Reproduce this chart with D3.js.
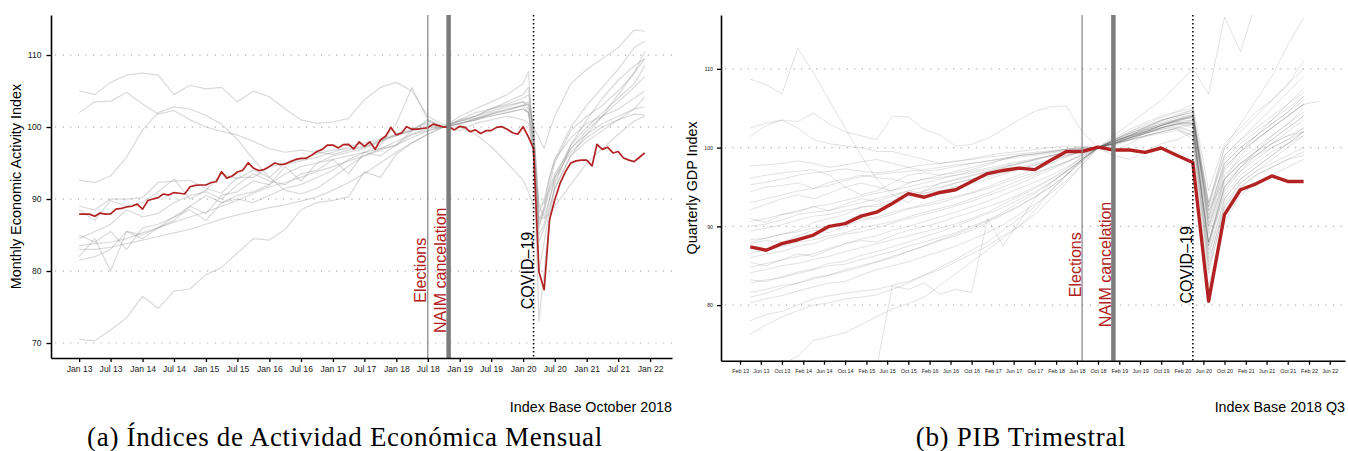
<!DOCTYPE html>
<html lang="es">
<head>
<meta charset="UTF-8">
<title>IGAE mensual y PIB trimestral</title>
<style>
  body { margin: 0; background: #fff; }
  svg text { font-family: "Liberation Sans", Arial, sans-serif; }
  svg text.caption { font-family: "Liberation Serif", "Times New Roman", serif; }
</style>
<script src="https://d3js.org/d3.v7.min.js"></script>
</head>
<body>
<svg id="chart" width="1348" height="451"></svg>
<script>
// ---------- panel (a): monthly index, base Oct 2018 ----------
const igaeStart = "2013-01";
const igaeRed = [
  87.9, 87.9, 87.9, 87.6, 88.05, 87.9, 87.95, 88.6, 88.7, 88.9, 89.0, 89.3,
  88.6, 89.8, 90.0, 90.2, 90.7, 90.55, 90.9, 90.8, 90.7, 91.7, 91.9, 91.95,
  91.95, 92.3, 92.4, 93.8, 92.9, 93.2, 93.75, 94.0, 95.05, 94.3, 93.95, 94.1,
  94.5, 95.0, 94.8, 94.85, 95.2, 95.5, 95.65, 95.65, 96.1, 96.6, 96.9, 97.5,
  97.5, 97.1, 97.55, 97.6, 96.95, 97.95, 97.3, 97.95, 96.9, 98.2, 98.75, 99.95,
  98.9, 99.2, 100.05, 99.7, 99.7, 99.8, 99.9, 100.4, 100.2, 100.0, 100.0, 99.6,
  100.1, 99.95, 99.35, 99.6, 99.1, 99.5, 99.5, 99.95, 100.05, 99.7, 99.2, 99.0,
  100.05, 98.6, 97.0, 79.9, 77.4, 87.1, 89.9, 92.2, 93.8, 95.0, 95.3, 95.4,
  95.4, 94.6, 97.6, 96.9, 97.2, 96.4, 96.6, 95.7, 95.4, 95.2, 95.8, 96.4
];
const igaeGrayDates = [
  "2013-01", "2013-04", "2013-07", "2013-10", "2014-01", "2014-04", "2014-07", "2014-10",
  "2015-01", "2015-04", "2015-07", "2015-10", "2016-01", "2016-04", "2016-07", "2016-10",
  "2017-01", "2017-04", "2017-07", "2017-10", "2018-01", "2018-04", "2018-07", "2018-10",
  "2019-01", "2019-04", "2019-07", "2019-10",
  "2020-01", "2020-02", "2020-03", "2020-04", "2020-05", "2020-06", "2020-07",
  "2020-10", "2021-01", "2021-04", "2021-07", "2021-10", "2021-12"
];
const igaeGray = [
  [105.0, 104.5, 106.2, 107.2, 107.5, 107.2, 104.5, 105.8, 105.3, 105.5, 103.5, 105.0, 104.2, 102.5, 101.0, 100.5, 100.7, 101.2, 103.8, 105.5, 106.2, 105.0, 101.5, 100.3, 100.8, 101.5, 102.2, 102.8, 103.5, 102.5, 97.0, 87.0, 89.0, 93.0, 95.5, 100.0, 103.0, 105.5, 108.0, 111.0, 111.9],
  [102.0, 103.5, 103.6, 104.8, 103.2, 101.8, 102.3, 101.0, 100.0, 99.4, 98.9, 98.0, 97.0, 96.5, 96.8, 96.5, 96.2, 96.8, 97.2, 98.0, 98.8, 99.5, 100.2, 100.0, 100.4, 101.2, 102.0, 102.4, 103.0, 103.5, 100.0, 89.0, 87.5, 90.0, 92.5, 97.0, 99.5, 101.5, 103.5, 105.5, 107.0],
  [92.6, 92.3, 93.2, 95.8, 99.6, 102.0, 102.8, 102.5, 101.6, 100.4, 98.3, 95.5, 93.0, 91.2, 90.7, 91.5, 93.0, 94.6, 96.0, 97.0, 98.0, 99.0, 99.8, 100.0, 100.0, 99.0, 97.3, 95.0, 92.6, 91.0, 89.0, 87.5, 87.3, 88.0, 89.0, 92.0, 95.0, 97.0, 99.0, 100.8, 101.5],
  [70.5, 70.3, 71.8, 73.5, 76.5, 74.8, 77.2, 77.5, 79.5, 80.5, 82.5, 84.5, 84.3, 85.8, 88.5, 89.5, 89.8, 90.3, 93.8, 93.0, 96.2, 97.8, 99.0, 100.0, 100.5, 101.0, 101.8, 102.5, 103.0, 102.0, 96.0, 80.0, 84.0, 88.5, 91.5, 96.0, 99.0, 101.5, 104.5, 107.5, 109.5],
  [89.0, 88.5, 90.0, 90.0, 90.2, 92.3, 92.5, 92.6, 91.5, 90.8, 93.0, 93.0, 94.5, 94.8, 95.3, 95.8, 96.5, 97.3, 97.8, 98.3, 99.0, 99.8, 100.5, 100.0, 100.8, 101.5, 102.6, 103.2, 104.0, 104.5, 100.0, 85.0, 86.5, 90.0, 93.0, 97.5, 100.0, 102.0, 104.0, 106.0, 108.5],
  [88.5, 87.0, 89.8, 89.0, 89.5, 91.0, 92.8, 90.0, 91.2, 93.5, 92.8, 94.0, 93.0, 95.0, 95.5, 96.3, 96.8, 97.0, 97.3, 98.2, 98.8, 99.5, 101.0, 100.0, 101.0, 102.0, 102.5, 103.5, 104.5, 105.5, 99.0, 86.0, 88.5, 92.0, 95.0, 99.5, 101.5, 103.0, 105.0, 107.5, 110.5],
  [85.0, 84.0, 85.5, 83.0, 86.0, 86.5, 87.5, 89.0, 88.0, 90.5, 91.0, 92.5, 92.0, 93.5, 94.5, 95.0, 96.0, 96.5, 97.0, 98.0, 99.0, 99.5, 100.8, 100.0, 100.5, 101.0, 101.5, 102.0, 102.5, 102.0, 98.5, 88.0, 90.0, 93.0, 95.5, 98.5, 100.5, 101.5, 102.5, 104.0, 105.0],
  [83.5, 83.8, 84.0, 84.5, 85.3, 86.0, 86.8, 87.5, 88.2, 89.0, 89.8, 90.8, 91.7, 92.3, 93.0, 93.8, 94.5, 95.3, 96.0, 96.8, 97.5, 98.5, 99.5, 100.0, 100.5, 101.0, 101.8, 102.3, 103.0, 103.2, 99.5, 89.0, 89.5, 91.5, 93.5, 97.0, 99.0, 100.5, 101.5, 102.5, 102.8],
  [83.0, 83.0, 83.3, 83.8, 84.3, 84.8, 85.3, 85.8, 86.5, 87.2, 87.8, 88.3, 88.8, 89.2, 89.7, 90.3, 91.2, 92.3, 93.5, 95.0, 96.5, 97.8, 99.0, 100.0, 100.8, 101.2, 101.6, 102.0, 102.5, 102.0, 97.5, 86.5, 88.5, 91.0, 93.0, 96.5, 98.5, 100.0, 101.0, 101.8, 101.7],
  [82.0, 84.5, 80.0, 85.5, 84.5, 86.0, 87.5, 88.5, 87.0, 89.5, 90.5, 91.0, 92.0, 94.5, 92.5, 95.0, 95.5, 93.5, 96.5, 97.0, 97.5, 99.5, 100.0, 100.0, 99.5, 100.5, 101.0, 101.5, 101.0, 100.5, 96.0, 84.0, 86.0, 89.0, 91.5, 96.0, 98.0, 99.5, 101.0, 102.5, 104.2],
  [81.5, 82.0, 83.0, 85.5, 85.0, 86.0, 87.0, 89.0, 90.5, 89.5, 90.0, 89.5, 90.5, 91.5, 92.0, 93.0, 94.0, 95.5, 96.5, 97.5, 100.5, 105.5, 101.0, 100.0, 101.5, 102.5, 103.5, 104.5, 106.0, 107.7, 96.0, 73.0, 80.0, 87.0, 92.0, 97.5, 101.0, 104.0, 106.5, 108.5, 109.5],
  [84.5, 85.5, 86.5, 88.5, 87.5, 88.0, 89.5, 90.5, 91.0, 90.0, 92.0, 93.5, 92.5, 92.0, 93.5, 94.0, 95.5, 96.0, 96.5, 96.0, 97.5, 99.0, 99.5, 100.0, 101.0, 101.5, 102.5, 103.0, 103.5, 103.0, 100.0, 98.5, 97.0, 99.5, 101.5, 106.0, 108.0, 109.5, 111.0, 113.5, 113.3]
];

// ---------- panel (b): quarterly GDP, base 2018 Q3 ----------
const pibQuarters = [
  "2013Q1", "2013Q2", "2013Q3", "2013Q4", "2014Q1", "2014Q2", "2014Q3", "2014Q4",
  "2015Q1", "2015Q2", "2015Q3", "2015Q4", "2016Q1", "2016Q2", "2016Q3", "2016Q4",
  "2017Q1", "2017Q2", "2017Q3", "2017Q4", "2018Q1", "2018Q2", "2018Q3", "2018Q4",
  "2019Q1", "2019Q2", "2019Q3", "2019Q4", "2020Q1", "2020Q2", "2020Q3", "2020Q4",
  "2021Q1", "2021Q2", "2021Q3", "2021Q4", "2022Q1"
];
const pibRed = [
  87.4, 86.97, 87.8, 88.3, 88.9, 90.0, 90.35, 91.3, 91.8, 92.9,
  94.15, 93.7, 94.3, 94.65, 95.7, 96.7, 97.1, 97.4, 97.2, 98.4,
  99.5, 99.5, 100.07, 99.7, 99.7, 99.4, 99.95, 99.0, 98.1, 80.5,
  91.5, 94.65, 95.4, 96.4, 95.7, 95.7
];
const pibGray = [
  [108.7, 108.0, 106.8, 112.6, 109.5, 106.0, 102.5, 99.0, 96.0, 94.0, 93.0, 94.5, 95.5, 96.0, 96.5, 97.0, 97.5, 98.0, 98.5, 99.0, 99.3, 99.7, 100.0, 99.0, 98.5, 99.5, 100.5, 101.0, 102.0, 88.0, 96.0, 98.0, 99.5, 100.5, 101.5, 102.0],
  [102.5, 103.1, 103.5, 103.3, 104.4, 103.0, 102.0, 101.5, 101.0, 104.0, 103.9, 102.3, 101.6, 100.2, 100.4, 101.2, 102.3, 103.5, 104.6, 105.2, 105.3, 102.0, 100.0, 99.5, 100.5, 101.5, 102.0, 102.5, 103.0, 92.0, 96.0, 98.0, 99.0, 100.5, 101.5, 102.5],
  [101.4, 102.8, 103.5, 102.5, 101.0, 100.5, 100.2, 100.0, 99.5, 99.5, 99.0, 98.5, 98.0, 98.2, 98.6, 99.0, 99.3, 99.5, 99.8, 100.0, 100.2, 100.1, 100.0, 100.5, 101.5, 102.5, 103.5, 104.0, 104.5, 90.0, 96.0, 99.0, 101.0, 102.5, 104.0, 105.5],
  [97.7, 97.8, 98.0, 98.3, 98.0, 97.5, 97.8, 98.2, 98.5, 98.0, 97.5, 97.0, 97.2, 97.6, 98.0, 98.3, 98.6, 99.0, 99.2, 99.5, 99.8, 100.0, 100.0, 100.6, 101.2, 101.8, 102.3, 102.6, 102.0, 88.0, 94.0, 96.5, 98.0, 99.5, 100.5, 101.5],
  [96.1, 96.5, 96.8, 97.0, 97.2, 96.5, 95.0, 94.0, 94.5, 95.5, 96.5, 96.8, 96.5, 96.8, 97.2, 97.8, 98.5, 99.0, 99.2, 99.5, 99.8, 100.1, 100.0, 101.0, 102.0, 102.8, 103.5, 104.0, 104.5, 91.0, 98.5, 100.5, 102.0, 103.5, 105.0, 106.5],
  [95.3, 95.6, 96.0, 96.5, 96.8, 97.0, 97.3, 97.0, 96.8, 97.0, 97.5, 97.8, 98.0, 98.3, 98.5, 98.8, 99.0, 99.2, 99.4, 99.6, 99.8, 99.9, 100.0, 100.8, 101.5, 102.2, 102.8, 103.3, 103.0, 86.5, 93.5, 96.0, 97.5, 99.0, 100.5, 102.0],
  [94.4, 95.0, 95.2, 95.5, 94.8, 95.6, 96.0, 96.5, 96.2, 96.0, 95.5, 96.0, 96.5, 97.0, 97.5, 98.0, 98.5, 98.8, 99.0, 99.3, 99.6, 99.8, 100.0, 100.5, 101.0, 101.5, 102.0, 102.5, 101.5, 84.0, 92.5, 95.5, 97.0, 98.0, 99.0, 100.0],
  [93.0, 93.5, 94.0, 94.5, 94.8, 95.2, 95.8, 96.3, 96.6, 96.8, 97.0, 97.2, 97.5, 97.8, 98.0, 98.3, 98.6, 99.0, 99.2, 99.4, 99.7, 99.9, 100.0, 101.0, 101.8, 102.5, 103.2, 103.8, 104.2, 90.5, 97.5, 99.5, 101.0, 102.5, 104.0, 105.5, 105.9],
  [92.1, 92.8, 93.5, 94.0, 93.5, 94.2, 95.0, 95.5, 95.0, 94.5, 95.5, 96.0, 96.2, 96.5, 96.8, 97.2, 97.6, 98.0, 98.5, 99.0, 99.4, 99.8, 100.0, 100.5, 101.2, 101.8, 102.5, 103.0, 102.5, 87.5, 95.0, 97.5, 99.0, 100.0, 101.0, 102.0],
  [90.6, 91.0, 91.5, 92.0, 92.5, 92.8, 93.3, 93.8, 94.2, 94.6, 95.0, 95.5, 96.0, 96.5, 97.0, 97.4, 97.8, 98.2, 98.6, 99.0, 99.4, 99.7, 100.0, 100.8, 101.5, 102.0, 102.8, 103.5, 103.8, 89.0, 96.0, 98.0, 99.5, 101.0, 102.5, 104.0],
  [89.4, 89.8, 90.2, 90.8, 91.3, 91.5, 92.0, 92.4, 92.8, 93.3, 93.8, 94.2, 94.5, 95.0, 95.5, 96.0, 96.6, 97.2, 97.8, 98.4, 99.0, 99.5, 100.0, 100.5, 101.2, 102.0, 102.6, 103.2, 103.0, 85.0, 93.0, 95.5, 97.0, 98.5, 100.0, 101.5],
  [88.3, 88.5, 89.0, 89.3, 89.8, 90.0, 90.5, 91.0, 91.2, 91.8, 92.3, 92.8, 93.3, 93.8, 94.3, 95.0, 95.8, 96.5, 97.2, 98.0, 98.8, 99.5, 100.0, 100.6, 101.3, 102.0, 102.5, 103.0, 102.8, 88.0, 95.0, 97.0, 98.5, 100.0, 101.0, 102.5],
  [86.6, 87.0, 87.5, 88.0, 88.3, 88.8, 89.2, 89.8, 90.2, 90.6, 91.2, 91.8, 92.3, 92.8, 93.5, 94.2, 95.0, 95.8, 96.6, 97.4, 98.2, 99.2, 100.0, 100.8, 101.6, 102.4, 103.0, 103.6, 104.0, 92.0, 98.0, 100.0, 101.5, 103.0, 104.5, 106.5],
  [85.4, 85.0, 85.8, 86.5, 86.2, 87.0, 87.8, 88.2, 88.0, 88.8, 89.5, 90.0, 90.5, 91.2, 91.8, 92.5, 93.2, 94.0, 95.0, 96.0, 97.0, 98.5, 100.0, 100.5, 101.0, 101.8, 102.3, 102.8, 102.0, 84.5, 92.0, 95.0, 96.5, 97.5, 98.5, 99.5],
  [84.1, 84.5, 85.0, 85.3, 85.8, 86.2, 86.8, 87.3, 87.8, 88.3, 88.8, 89.3, 89.8, 90.3, 91.0, 91.8, 92.8, 93.8, 94.8, 96.0, 97.3, 98.8, 100.0, 101.0, 101.8, 102.6, 103.4, 104.0, 104.8, 93.0, 99.0, 101.0, 103.0, 105.0, 107.0, 109.0],
  [82.8, 83.2, 83.5, 84.0, 84.5, 85.0, 85.2, 85.8, 86.3, 86.8, 87.5, 88.0, 88.6, 89.2, 90.0, 90.8, 91.8, 93.0, 94.2, 95.5, 97.0, 98.5, 100.0, 100.5, 101.2, 101.8, 102.5, 103.0, 103.2, 86.0, 93.5, 96.0, 97.5, 99.0, 100.5, 102.0],
  [81.6, 82.0, 82.5, 82.8, 83.3, 83.8, 84.5, 85.0, 85.5, 86.0, 86.8, 87.5, 88.2, 88.8, 89.5, 90.5, 91.5, 92.5, 93.8, 95.0, 96.5, 98.3, 100.0, 101.0, 102.0, 103.0, 103.8, 104.5, 105.0, 90.0, 97.0, 99.5, 101.5, 103.5, 105.5, 107.5],
  [80.3, 80.8, 81.2, 81.8, 82.3, 82.8, 83.0, 83.8, 84.5, 85.0, 85.5, 86.2, 86.8, 87.5, 88.3, 89.2, 90.2, 91.5, 92.8, 94.2, 95.8, 97.8, 100.0, 100.8, 101.5, 102.2, 102.8, 103.3, 103.5, 87.0, 94.5, 97.0, 99.0, 100.5, 102.0, 103.5],
  [78.0, 78.8, 79.2, 80.0, 80.8, 81.2, 81.5, 81.8, 82.0, 82.5, 83.0, 83.8, 84.5, 85.5, 86.5, 87.5, 88.8, 90.0, 91.5, 93.5, 95.5, 97.8, 100.0, 100.5, 101.2, 102.0, 102.8, 103.5, 104.0, 89.5, 96.5, 98.5, 100.0, 101.5, 103.0, 104.5],
  [76.3, 77.5, 78.5, 79.3, 80.0, 80.3, 80.8, 81.0, 81.3, 82.0, 82.8, 83.8, 84.8, 85.8, 87.0, 88.0, 89.5, 91.0, 92.5, 94.5, 96.5, 98.5, 100.0, 100.8, 101.6, 102.3, 103.0, 103.6, 104.2, 91.0, 97.5, 99.5, 101.0, 102.5, 104.0, 105.5],
  [71.0, 71.8, 72.5, 73.5, 75.5, 76.0, 76.5, 77.5, 78.5, 79.5, 80.2, 81.0, 82.5, 84.0, 85.5, 87.0, 88.5, 90.0, 92.0, 94.5, 96.5, 98.5, 100.0, 100.8, 101.5, 102.3, 103.0, 103.5, 104.0, 92.5, 99.0, 101.0, 102.5, 104.0, 105.5, 107.0],
  [66.0, 67.0, 68.0, 69.0, 70.0, 70.5, 71.0, 71.5, 72.0, 82.4, 82.0, 82.8, 81.4, 82.0, 81.6, 91.0, 87.5, 90.5, 93.5, 95.5, 97.0, 98.5, 100.0, 100.5, 101.0, 101.8, 102.5, 103.0, 103.5, 88.0, 95.0, 97.5, 99.5, 101.5, 103.0, 105.0],
  [88.0, 88.5, 89.0, 89.5, 90.5, 91.0, 91.5, 92.5, 92.5, 93.0, 94.0, 94.5, 95.0, 95.5, 96.0, 96.5, 97.0, 97.5, 98.0, 98.5, 99.0, 99.5, 100.0, 101.5, 103.0, 104.5, 106.0, 108.0, 110.0, 106.8, 116.6, 112.2, 118.5, 120.0, 121.0, 122.0],
  [90.0, 90.3, 90.8, 91.5, 91.8, 92.0, 92.5, 93.0, 93.5, 94.0, 94.5, 95.0, 95.4, 95.9, 96.4, 96.9, 97.4, 97.9, 98.4, 98.9, 99.3, 99.7, 100.0, 100.7, 101.4, 102.1, 102.8, 103.4, 104.0, 93.0, 100.0, 103.0, 106.0, 109.0, 113.0, 116.5],
  [91.0, 90.5, 91.5, 91.8, 92.5, 92.0, 92.8, 93.5, 93.2, 93.8, 94.5, 94.2, 94.8, 95.5, 96.0, 96.3, 96.8, 97.3, 97.8, 98.3, 98.9, 99.5, 100.0, 101.2, 102.3, 103.2, 104.0, 104.6, 105.5, 94.5, 100.5, 102.5, 104.5, 106.0, 108.0, 110.0],
  [87.8, 88.2, 88.0, 88.8, 89.5, 89.2, 90.0, 90.8, 91.0, 91.5, 92.2, 92.6, 93.0, 93.6, 94.2, 94.8, 95.5, 96.2, 96.8, 97.5, 98.2, 99.0, 100.0, 100.3, 100.9, 101.5, 102.0, 102.4, 101.0, 82.5, 90.5, 94.0, 95.5, 96.5, 97.5, 98.5],
  [84.8, 85.3, 85.7, 86.2, 86.5, 87.2, 87.8, 88.4, 88.8, 89.5, 90.0, 90.6, 91.2, 91.8, 92.5, 93.2, 94.0, 94.8, 95.6, 96.5, 97.5, 98.7, 100.0, 100.7, 101.4, 102.0, 102.8, 103.4, 103.8, 91.5, 98.0, 100.0, 101.5, 103.0, 104.5, 106.0],
  [83.2, 83.0, 83.6, 84.2, 84.6, 85.3, 85.6, 86.3, 86.8, 87.4, 88.0, 88.7, 89.3, 90.0, 90.8, 91.6, 92.4, 93.4, 94.4, 95.6, 96.9, 98.4, 100.0, 100.4, 101.0, 101.4, 101.8, 102.2, 101.5, 85.5, 92.5, 95.0, 96.5, 97.5, 98.5, 99.0],
  [81.0, 81.5, 82.2, 82.8, 83.5, 83.8, 84.3, 84.8, 85.5, 86.2, 86.8, 87.5, 88.3, 89.0, 89.8, 90.7, 91.6, 92.6, 93.7, 95.0, 96.5, 98.2, 100.0, 100.9, 101.8, 102.6, 103.4, 104.2, 104.8, 92.5, 100.0, 102.0, 104.0, 106.0, 108.0, 111.0],
  [86.0, 86.5, 86.8, 87.5, 87.8, 88.5, 89.0, 89.3, 89.8, 90.4, 91.0, 91.5, 92.0, 92.6, 93.2, 93.9, 94.6, 95.4, 96.3, 97.2, 98.1, 99.1, 100.0, 100.6, 101.3, 101.9, 102.5, 103.0, 103.3, 87.5, 95.5, 97.5, 99.5, 101.0, 102.5, 104.0]
];

const yTickValues = [70, 80, 90, 100, 110];

const svg = d3.select("#chart");
const parseMonth = d3.timeParse("%Y-%m");
const fmtTick = d3.timeFormat("%b %y");

// "2013Q1" -> first day after the quarter, that's where the points sit
function quarterDate(q) {
  return new Date(+q.slice(0, 4), 3 * (+q.slice(5)), 1);
}

function drawPanel(p) {
  const x = d3.scaleTime().domain(p.xDomain).range([p.left, p.right]);
  const y = d3.scaleLinear().domain(p.yDomain).range([p.bottom, p.top]);
  const g = svg.append("g");

  g.append("clipPath").attr("id", p.id + "-clip")
    .append("rect")
    .attr("x", p.left).attr("y", p.top)
    .attr("width", p.right - p.left).attr("height", p.bottom - p.top);

  // dotted horizontal grid
  g.selectAll(".grid").data(p.yTicks).join("line")
    .attr("x1", p.left + 4).attr("x2", p.right)
    .attr("y1", d => y(d)).attr("y2", d => y(d))
    .attr("stroke", "#b0b0b0")
    .attr("stroke-width", 1.2)
    .attr("stroke-dasharray", "1.2,6.4");

  const line = d3.line().x(d => x(d.date)).y(d => y(d.value));
  const plot = g.append("g").attr("clip-path", `url(#${p.id}-clip)`);

  plot.selectAll(".gray").data(p.gray).join("path")
    .attr("d", line)
    .attr("fill", "none")
    .attr("stroke", p.grayColor)
    .attr("stroke-opacity", p.grayOpacity)
    .attr("stroke-width", p.grayWidth)
    .attr("stroke-linejoin", "round");

  plot.append("path")
    .datum(p.red)
    .attr("d", line)
    .attr("fill", "none")
    .attr("stroke", "#b22222")
    .attr("stroke-width", p.redWidth)
    .attr("stroke-linejoin", "round");

  // event lines
  const ev = p.events;
  g.append("line")
    .attr("x1", x(ev.elections)).attr("x2", x(ev.elections))
    .attr("y1", p.top).attr("y2", p.bottom)
    .attr("stroke", "#8c8c8c").attr("stroke-width", 1.3);
  g.append("line")
    .attr("x1", x(ev.naim)).attr("x2", x(ev.naim))
    .attr("y1", p.top).attr("y2", p.bottom)
    .attr("stroke", "#7c7c7c").attr("stroke-width", 4.5);
  g.append("line")
    .attr("x1", x(ev.covid)).attr("x2", x(ev.covid))
    .attr("y1", p.top).attr("y2", p.bottom)
    .attr("stroke", "#000").attr("stroke-width", 1.5)
    .attr("stroke-dasharray", "1.4,2.6");

  const labels = [
    { text: "Elections", date: ev.elections, at: p.labelAt[0], color: "#b22222", dx: -1.5 },
    { text: "NAIM cancelation", date: ev.naim, at: p.labelAt[1], color: "#b22222", dx: -2.5 },
    { text: "COVID\u201319", date: ev.covid, at: p.labelAt[2], color: "#000", dx: -0.5 }
  ];
  g.selectAll(".evlab").data(labels).join("text")
    .attr("transform", d => `translate(${x(d.date) + d.dx},${y(d.at)}) rotate(-90)`)
    .attr("text-anchor", "start")
    .attr("font-size", 16)
    .attr("fill", d => d.color)
    .text(d => d.text);

  // axes
  const xAxis = d3.axisBottom(x).tickValues(p.xTicks).tickFormat(fmtTick)
    .tickSize(4).tickSizeOuter(0).tickPadding(p.xPad);
  const gx = g.append("g").attr("transform", `translate(0,${p.bottom})`).call(xAxis);
  gx.select(".domain").attr("stroke-width", 1.6);
  gx.selectAll(".tick line").attr("stroke-width", 1.3);
  gx.selectAll(".tick text").attr("font-size", p.tickFont)
    .attr("font-family", "Liberation Sans, Arial, sans-serif").attr("fill", "#222");

  const yAxis = d3.axisLeft(y).tickValues(p.yTicks)
    .tickSize(p.yTickSize).tickSizeOuter(0).tickPadding(p.yPad);
  const gy = g.append("g").attr("transform", `translate(${p.left},0)`).call(yAxis);
  gy.select(".domain").attr("stroke-width", 1.6);
  gy.selectAll(".tick line").attr("stroke-width", 1.3);
  gy.selectAll(".tick text").attr("font-size", p.yTickFont)
    .attr("font-family", "Liberation Sans, Arial, sans-serif").attr("fill", "#222");

  // titles
  g.append("text")
    .attr("transform", `translate(${p.left - p.titleOffset},${(p.top + p.bottom) / 2}) rotate(-90)`)
    .attr("text-anchor", "middle")
    .attr("font-size", 14.4)
    .text(p.yTitle);
  g.append("text")
    .attr("x", p.right).attr("y", 412)
    .attr("text-anchor", "end")
    .attr("font-size", 14.3)
    .text(p.note);
  g.append("text")
    .attr("class", "caption")
    .attr("x", p.captionX).attr("y", 446)
    .attr("text-anchor", "middle")
    .attr("font-size", 27)
    .attr("letter-spacing", 0.7)
    .text(p.caption);
}

const igaeRedPts = igaeRed.map((v, i) => ({
  date: d3.timeMonth.offset(parseMonth(igaeStart), i), value: v
}));
const igaeGrayPts = igaeGray.map(s => s.map((v, i) => ({ date: parseMonth(igaeGrayDates[i]), value: v })));

drawPanel({
  id: "igae",
  left: 51, right: 672, top: 15, bottom: 358,
  xDomain: [new Date(2012, 6, 23), new Date(2022, 4, 7)],
  yDomain: [67.92, 115.56],
  yTicks: yTickValues,
  xTicks: d3.timeMonth.range(new Date(2013, 0, 1), new Date(2022, 0, 2), 6),
  red: igaeRedPts,
  gray: igaeGrayPts,
  grayColor: "#8f8f8f", grayOpacity: 0.33, grayWidth: 1.2,
  redWidth: 1.7,
  events: {
    elections: new Date(2018, 6, 1),
    naim: new Date(2018, 9, 29),
    covid: new Date(2020, 2, 1)
  },
  labelAt: [75.6, 71.4, 74.7],
  tickFont: 8.6, yTickFont: 8.6, xPad: 4, yPad: 5, yTickSize: 4.5,
  yTitle: "Monthly Economic Activity Index", titleOffset: 30,
  note: "Index Base October 2018",
  caption: "(a) \u00cdndices de Actividad Econ\u00f3mica Mensual", captionX: 345
});

const pibRedPts = pibRed.map((v, i) => ({ date: quarterDate(pibQuarters[i]), value: v }));
const pibGrayPts = pibGray.map(s => s.map((v, i) => ({ date: quarterDate(pibQuarters[i]), value: v })));

drawPanel({
  id: "pib",
  left: 721, right: 1345, top: 15, bottom: 360.7,
  xDomain: [new Date(2012, 9, 14), new Date(2022, 7, 28)],
  yDomain: [72.94, 116.84],
  yTicks: [80, 90, 100, 110],
  xTicks: d3.timeMonth.range(new Date(2013, 1, 1), new Date(2022, 5, 2), 4),
  red: pibRedPts,
  gray: pibGrayPts,
  grayColor: "#555", grayOpacity: 0.19, grayWidth: 0.9,
  redWidth: 3.4,
  events: {
    elections: new Date(2018, 6, 1),
    naim: new Date(2018, 11, 29),
    covid: new Date(2020, 3, 1)
  },
  labelAt: [81.0, 77.2, 80.2],
  tickFont: 5.4, yTickFont: 5.2, xPad: 4, yPad: 4, yTickSize: 4,
  yTitle: "Quarterly GDP Index", titleOffset: 24.5,
  note: "Index Base 2018 Q3",
  caption: "(b) PIB Trimestral", captionX: 1021
});
</script>
</body>
</html>
